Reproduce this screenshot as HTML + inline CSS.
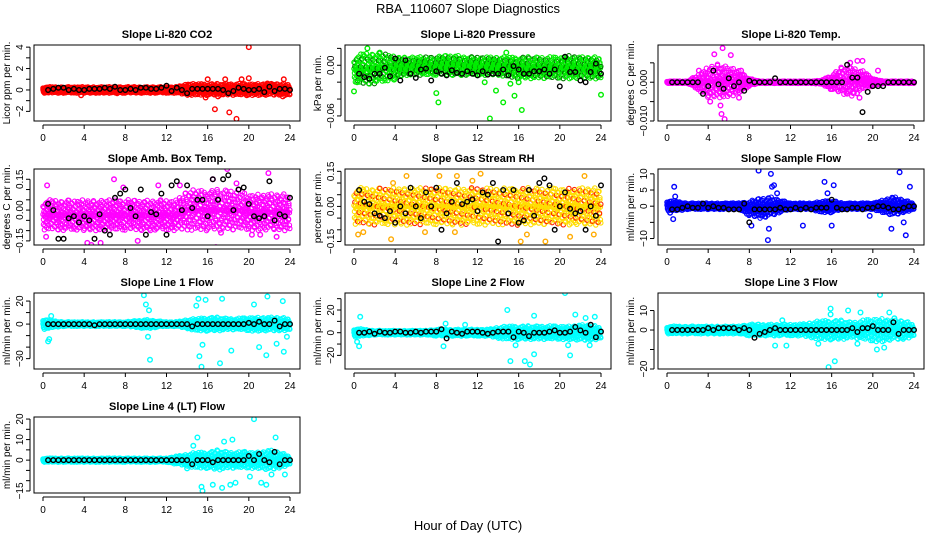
<!DOCTYPE html>
<html><head><meta charset="utf-8"><style>
html,body{margin:0;padding:0;background:#fff;}
svg{display:block;font-family:"Liberation Sans","DejaVu Sans",sans-serif;}
</style></head><body>
<svg id="chart" width="936" height="540" viewBox="0 0 936 540" xmlns="http://www.w3.org/2000/svg">
<text x="468" y="13" text-anchor="middle" font-size="13">RBA_110607  Slope Diagnostics</text>
<text x="468" y="530" text-anchor="middle" font-size="13">Hour of Day (UTC)</text>
<g id="panels"></g>
</svg>
<script>
const xTicks=[0,4,8,12,16,20,24];
const meanHours=[0.5,1,1.5,2,2.5,3,3.5,4,4.5,5,5.5,6,6.5,7,7.5,8,8.5,9,9.5,10,10.5,11,11.5,12,12.5,13,13.5,14,14.5,15,15.5,16,16.5,17,17.5,18,18.5,19,19.5,20,20.5,21,21.5,22,22.5,23,23.5,24];

// Panel 1 CO2
const co2Hi=[0.3,0.3,0.3,0.3,0.3,0.3,0.3,0.3,0.3,0.3,0.3,0.3,0.3,0.3,0.6,0.6,0.6,0.6,0.6,0.6,0.6,0.6,0.6,0.6,0.6];
const co2Lo=[-0.3,-0.3,-0.3,-0.3,-0.3,-0.3,-0.3,-0.3,-0.3,-0.3,-0.3,-0.3,-0.3,-0.3,-0.5,-0.5,-0.5,-0.5,-0.5,-0.5,-0.5,-0.5,-0.5,-0.5,-0.5];
const co2Out=[[16,1],[15.8,-0.7],[16.7,-1.8],[17.7,1],[18.1,-2.1],[18.8,-2.7],[19.3,1],[20,4],[20,1.1],[21.8,0.6],[22.3,0.5],[23.4,1],[23.3,-0.6],[14.1,0.5],[3.7,-0.5],[7.2,-0.3],[17,-0.6],[19.8,-0.5]];
const co2Mean=[0,0.1,0.2,0.2,0,0.1,0,0,0.1,0.1,0.1,0.2,0.1,0.3,0,0,0.1,0,0.2,0.2,0.1,0.1,0.2,0.4,-0.1,0.2,0,-0.3,0.1,0.1,0.1,0.1,0.1,0.1,0,-0.3,-0.1,0.2,0.1,0,0,0.1,-0.2,0.3,-0.1,0.1,0.1,0];

// Panel 2 Pressure
const presHi=[0.01,0.015,0.015,0.015,0.01,0.01,0.01,0.01,0.01,0.012,0.012,0.01,0.01,0.01,0.01,0.01,0.01,0.01,0.01,0.01,0.01,0.012,0.01,0.01,0.01];
const presLo=[-0.02,-0.024,-0.022,-0.02,-0.016,-0.012,-0.012,-0.012,-0.012,-0.012,-0.012,-0.012,-0.012,-0.012,-0.012,-0.014,-0.016,-0.016,-0.016,-0.016,-0.016,-0.016,-0.016,-0.016,-0.016];
const presOut=[[0.3,0.043],[0,-0.031],[0.3,-0.02],[1.3,0.02],[8,-0.033],[8.2,-0.044],[13.2,-0.063],[12.7,-0.02],[13.8,-0.03],[14.5,-0.044],[15.2,-0.022],[15.6,-0.036],[16.3,-0.053],[14.8,0.015],[24,-0.035],[2.5,0.015],[3.9,-0.017],[16,-0.02]];
const presMean=[-0.01,-0.014,-0.016,-0.01,-0.01,-0.003,-0.013,0.008,-0.018,0.006,-0.01,-0.015,-0.005,-0.004,-0.018,-0.007,-0.01,-0.012,-0.006,-0.009,-0.01,-0.007,-0.01,-0.012,-0.007,-0.011,-0.01,-0.01,-0.005,-0.012,-0.001,-0.005,-0.01,-0.01,-0.007,-0.007,-0.005,-0.01,-0.005,-0.025,0.01,-0.008,-0.008,-0.018,-0.02,-0.008,0.002,-0.01];

// Panel 3 Li-820 Temp
const tempHi=[0.0003,0.0003,0.0003,0.002,0.004,0.005,0.004,0.003,0.001,0.0003,0.0003,0.0003,0.0003,0.0003,0.0003,0.0005,0.002,0.004,0.004,0.003,0.001,0.0003,0.0003,0.0003,0.0003];
const tempLo=[-0.0003,-0.0003,-0.0003,-0.002,-0.004,-0.004,-0.004,-0.003,-0.001,-0.0003,-0.0003,-0.0003,-0.0003,-0.0003,-0.0003,-0.0005,-0.002,-0.003,-0.004,-0.002,-0.001,-0.0003,-0.0003,-0.0003,-0.0003];
const tempOut=[[5.4,0.0088],[4.6,0.0072],[6.2,0.007],[5.2,-0.006],[5.6,-0.0095],[5.3,-0.0082],[17.8,0.005],[18.5,0.0055],[19,0.0055],[18.7,-0.004],[7,-0.004],[4.2,-0.005],[3.1,0.003],[7.2,0.003],[20.5,0.003]];
const tempMean=[0,0,0,0,0,0,-0.003,-0.001,0.003,-0.0005,-0.0017,0.001,-0.001,0,-0.0022,0.0004,0,0,0,0,0.001,0,0,0,0,0,0,0,0,0,0,0,0,0,0.0045,0.0012,0.0012,-0.0077,-0.0025,-0.001,-0.001,-0.001,0,0,0,0,0,0];

// Panel 4 Amb box temp
const ambHi=[0.05,0.05,0.05,0.05,0.05,0.05,0.05,0.05,0.05,0.05,0.05,0.05,0.05,0.05,0.1,0.1,0.1,0.1,0.1,0.1,0.08,0.08,0.08,0.08,0.08];
const ambLo=[-0.1,-0.1,-0.1,-0.1,-0.1,-0.1,-0.1,-0.1,-0.1,-0.1,-0.1,-0.1,-0.1,-0.1,-0.1,-0.1,-0.1,-0.1,-0.1,-0.1,-0.1,-0.1,-0.1,-0.1,-0.1];
const ambOut=[[0.4,0.12],[6.9,0.15],[7.8,0.11],[4.3,-0.16],[4.7,-0.17],[5.6,-0.16],[9.2,-0.15],[11.2,0.12],[16.5,0.15],[16.8,-0.18],[17.9,0.2],[21.9,0.18],[18.8,0.13],[20.3,-0.12],[21.1,-0.12],[22.7,-0.13],[0.3,-0.13],[13.3,0.12],[17.3,-0.11]];
const ambMean=[0.03,0.0,-0.14,-0.14,-0.04,-0.03,-0.06,-0.03,-0.05,-0.14,-0.02,-0.1,-0.12,0.06,0.08,0.1,0.01,-0.03,0.1,-0.12,-0.01,-0.02,0.08,-0.12,0.12,0.14,0.0,0.12,0.01,0.05,0.05,-0.03,0.15,0.05,0.15,0.17,0.0,0.1,0.11,0.03,-0.03,-0.04,-0.03,0.14,-0.05,-0.02,-0.03,0.06];

// Panel 5 RH
const rhHi=[0.08,0.08,0.08,0.08,0.08,0.08,0.08,0.08,0.08,0.08,0.08,0.08,0.08,0.08,0.08,0.08,0.08,0.08,0.08,0.08,0.08,0.08,0.08,0.08,0.08];
const rhLo=[-0.08,-0.08,-0.08,-0.08,-0.08,-0.08,-0.08,-0.08,-0.08,-0.08,-0.08,-0.08,-0.08,-0.08,-0.08,-0.08,-0.08,-0.08,-0.08,-0.08,-0.08,-0.08,-0.08,-0.08,-0.08];
const rhOut=[[3.6,-0.14],[3.8,0.1],[5.1,0.13],[8.3,0.13],[10,0.13],[12.3,0.14],[16.2,-0.15],[18.6,-0.15],[21,-0.13],[22.4,0.13],[23.3,-0.12],[0.4,-0.12],[0.9,-0.11],[6.9,-0.11],[9.8,-0.11],[16.8,-0.12],[11.5,0.11]];
const rhMean=[0.07,0.02,0.01,-0.03,-0.04,-0.05,-0.02,-0.07,0.0,-0.03,0.08,0.0,-0.05,0.06,0.0,0.08,-0.1,-0.03,0.02,0.1,0.01,0.02,0.03,-0.02,0.06,0.05,0.1,-0.15,0.07,-0.03,0.07,-0.07,-0.06,0.07,-0.04,0.1,0.12,0.09,-0.1,0.0,0.06,-0.01,-0.03,-0.02,-0.1,0.0,-0.04,0.09];

// Panel 6 Sample Flow
const sfHi=[2,1.5,1,1,1,1,1,1,1.5,2.5,3,2,1,1,1,1.5,2,1,1,1,1,2,3,2,1];
const sfLo=[-1.5,-1.5,-1,-1,-1,-1,-1,-1,-3,-4,-3,-2,-1,-1,-1,-2,-2,-1,-1,-1,-1,-2,-3,-2,-1];
const sfOut=[[0.3,-2],[0.6,-4],[0.7,6],[0.8,3],[8.2,-6],[8.9,11],[9.8,-10.5],[9.9,-7],[10.1,10],[10.2,6],[10.4,6.5],[10.7,4],[13.2,-6],[15.3,7.5],[15.6,4],[16,-6],[16.2,6.5],[19.7,-3],[21.8,-7],[22.6,10.5],[23.2,-9],[23.6,6],[23,-5]];
const sfMean=[-1,-1,-0.5,0,-0.5,-0.5,0.8,-0.5,0,-0.5,-0.5,-1,-1,-1,0.8,-5,-1,-1,-1,-1,-1,-0.5,-1,-1,-0.5,-1,-0.5,-1,-0.5,-0.5,-0.5,2,-0.5,-1,-1,-0.5,-0.5,-1,-0.5,-0.5,0,0,-0.5,-1,-1,-0.5,0,0];

// Panel 7 Line 1 Flow
const l1Hi=[5,3,2,2,2,2,2,2,2,3,4,3,2,2,4,5,6,6,5,5,6,6,6,6,5];
const l1Lo=[-5,-3,-2,-2,-2,-2,-2,-2,-2,-3,-4,-3,-2,-2,-4,-6,-6,-6,-5,-5,-6,-6,-6,-6,-5];
const l1Out=[[0.5,-15],[0.6,-13],[0.8,7],[9.8,25],[10,17],[10.3,12],[10.4,-31],[10.2,-11],[15.1,22],[15.2,-28],[15.4,-37],[15.5,-18],[15.8,21],[14.9,16],[17.2,-34],[17.4,22],[18.3,-23],[20.5,17],[21,-20],[21.7,-27],[21.8,24],[23.3,20],[23.4,-24],[22.7,-17],[23.7,-11]];
const l1Mean=[0,0,0,0,0,0,0,0,0,-1,0,0,0,0,0,0,0,0,0,0,0,0,0,0,0,0,0,0,-2,0,0,0,0,0,0,0,0,0,0,1,0,2,0,0,3,-2,0,0];

// Panel 8 Line 2 Flow
const l2Hi=[4,3,2,2,2,2,2,2,3,3,3,3,3,3,5,6,6,6,6,6,6,6,7,7,5];
const l2Lo=[-4,-3,-2,-2,-2,-2,-2,-2,-3,-3,-3,-3,-3,-3,-5,-6,-6,-6,-6,-6,-6,-6,-7,-7,-5];
const l2Out=[[0.3,-8],[0.5,-12],[0.6,14],[8.7,-12],[14.9,20],[15.2,-25],[15.7,-11],[16.6,-25],[17.1,-28],[17.5,15],[17.5,-19],[20.5,35],[20.8,-11],[21,-20],[21.5,16],[22.5,13],[23.4,14],[22.9,-11],[10.8,7],[8.9,8]];
const l2Mean=[0,0,1,-1,1,0,0,1,1,0,0,1,0,1,1,1,3,-5,1,0,-1,1,1,1,0,-1,0,1,1,1,-4,1,0,-3,0,0,0,1,2,0,0,1,5,2,0,7,-4,1];

// Panel 9 Line 3 Flow
const l3Hi=[2,2,2,2,2,2,2,2,3,3,3,3,3,3,4,5,5,5,4,5,6,6,5,5,3];
const l3Lo=[-2,-2,-2,-2,-2,-2,-2,-2,-3,-3,-3,-3,-3,-3,-4,-5,-5,-5,-4,-5,-6,-6,-5,-5,-3];
const l3Out=[[10.5,-8],[11.2,5],[11.6,-8],[15.7,-19],[15.9,11],[16.3,-16],[15.9,8],[17.2,-3],[17.6,10],[18.5,-7],[18.8,9],[20.7,18],[20.4,-10],[21.1,-9],[21.6,9],[22.1,6],[21.7,4],[22.8,-4],[14.7,-7]];
const l3Mean=[0,0,0,0,0,0,0,1,0,1,1,1,1,0,1,0,-4,-2,-1,0,1,0,0,0,0,0,0,0,0,0,0,0,0,0,0,1,-1,1,1,2,0,0,0,4,-2,0,0,0];

// Panel 10 Line 4 (LT) Flow
const l4Hi=[1,1,1,1,1,1,1,1,1,1,1,1,1,2,3,4,4,5,4,4,4,4,5,4,2];
const l4Lo=[-1,-1,-1,-1,-1,-1,-1,-1,-1,-1,-1,-1,-1,-2,-3,-4,-4,-5,-4,-4,-4,-4,-5,-4,-2];
const l4Out=[[15,11],[14.6,7],[15.4,-13],[15.5,-15],[16.5,-12],[17.4,-13.5],[17.6,9],[18.4,10],[18.2,-12],[18.7,-11],[20.1,-8],[20.5,20],[21.2,-11],[21.7,-12],[22.6,11],[22.2,-7],[23.5,-7],[14,-4],[19.6,4]];
const l4Mean=[0,0,0,0,0,0,0,0,0,0,0,0,0,0,0,0,0,0,0,0,0,0,0,0,0,0,0,0,-2,0,0,0,-1,0,0,0,0,0,0,2,0,3,0,-1,4,-2,0,0];

const panels=[
 {id:'co2',title:'Slope Li-820 CO2',ylab:'Licor ppm per min.',col:0,row:0,ymin:-2.9,ymax:4.2,ticks:[-2,-1,0,1,2,3,4],labels:[-2,0,2,4],fmt:v=>v<0?'\u2212'+(-v):''+v,color:'#ff0000',hi:co2Hi,lo:co2Lo,out:co2Out,mean:co2Mean},
 {id:'pressure',title:'Slope Li-820 Pressure',ylab:'kPa per min.',col:1,row:0,ymin:-0.066,ymax:0.024,ticks:[-0.06,-0.04,-0.02,0,0.02],labels:[-0.06,0],fmt:v=>v<0?'\u2212'+(-v).toFixed(2):v.toFixed(2),color:'#00ee00',color2:'#007700',hi:presHi,lo:presLo,out:presOut,mean:presMean},
 {id:'temp',title:'Slope Li-820 Temp.',ylab:'degrees C per min.',col:2,row:0,ymin:-0.010,ymax:0.0096,ticks:[-0.01,-0.005,0,0.005],labels:[-0.01,0],fmt:v=>v<0?'\u2212'+(-v).toFixed(3):v.toFixed(3),color:'#ff00ff',hi:tempHi,lo:tempLo,out:tempOut,mean:tempMean},
 {id:'ambbox',title:'Slope Amb. Box Temp.',ylab:'degrees C per min.',col:0,row:1,ymin:-0.17,ymax:0.2,ticks:[-0.15,-0.1,-0.05,0,0.05,0.1,0.15],labels:[-0.15,0,0.15],fmt:v=>v<0?'\u2212'+(-v).toFixed(2):v.toFixed(2),color:'#ff00ff',hi:ambHi,lo:ambLo,out:ambOut,mean:ambMean},
 {id:'rh',title:'Slope Gas Stream RH',ylab:'percent per min.',col:1,row:1,ymin:-0.165,ymax:0.16,ticks:[-0.15,-0.1,-0.05,0,0.05,0.1,0.15],labels:[-0.15,0,0.15],fmt:v=>v<0?'\u2212'+(-v).toFixed(2):v.toFixed(2),color:'#ffdd00',color2:'#ff2200',hi:rhHi,lo:rhLo,out:rhOut,mean:rhMean},
 {id:'sampleflow',title:'Slope Sample Flow',ylab:'ml/min per min.',col:2,row:1,ymin:-12,ymax:11.5,ticks:[-10,-5,0,5,10],labels:[-10,0,5,10],fmt:v=>v<0?'\u2212'+(-v):''+v,color:'#0000ff',hi:sfHi,lo:sfLo,out:sfOut,mean:sfMean},
 {id:'line1',title:'Slope Line 1 Flow',ylab:'ml/min per min.',col:0,row:2,ymin:-39,ymax:27,ticks:[-30,-20,-10,0,10,20],labels:[-30,0,20],fmt:v=>v<0?'\u2212'+(-v):''+v,color:'#00ffff',hi:l1Hi,lo:l1Lo,out:l1Out,mean:l1Mean},
 {id:'line2',title:'Slope Line 2 Flow',ylab:'ml/min per min.',col:1,row:2,ymin:-32,ymax:35,ticks:[-20,-10,0,10,20,30],labels:[-20,0,20],fmt:v=>v<0?'\u2212'+(-v):''+v,color:'#00ffff',hi:l2Hi,lo:l2Lo,out:l2Out,mean:l2Mean},
 {id:'line3',title:'Slope Line 3 Flow',ylab:'ml/min per min.',col:2,row:2,ymin:-20,ymax:19,ticks:[-20,-10,0,10],labels:[-20,0,10],fmt:v=>v<0?'\u2212'+(-v):''+v,color:'#00ffff',hi:l3Hi,lo:l3Lo,out:l3Out,mean:l3Mean},
 {id:'line4',title:'Slope Line 4 (LT) Flow',ylab:'ml/min per min.',col:0,row:3,ymin:-16,ymax:21,ticks:[-15,-10,-5,0,5,10,15,20],labels:[-15,0,10,20],fmt:v=>v<0?'\u2212'+(-v):''+v,color:'#00ffff',hi:l4Hi,lo:l4Lo,out:l4Out,mean:l4Mean}
];
const NS='http://www.w3.org/2000/svg';
const root=document.getElementById('panels');
const colLeft=[34,345,658], rowTop=[45,169,293,417], W=266, H=76;
function mk(tag,attrs,parent){const e=document.createElementNS(NS,tag);for(const k in attrs)e.setAttribute(k,attrs[k]);parent.appendChild(e);return e;}
function interp(arr,h){const i=Math.min(23,Math.floor(h));const f=h-i;return arr[i]+(arr[i+1]-arr[i])*f;}
panels.forEach(p=>{
  const L=colLeft[p.col], T=rowTop[p.row], B=T+H;
  const g=mk('g',{},root);
  
  
  const xs=h=>L+9+h*(247/24);
  const ys=v=>T+(p.ymax-v)/(p.ymax-p.ymin)*H;
  const clip=mk('clipPath',{id:'c-'+p.id},g);
  mk('rect',{x:L,y:T,width:W,height:H},clip);
  const pts=mk('g',{'clip-path':'url(#c-'+p.id+')',fill:'none'},g);
  
  
  // dense band texture (quasi-random spread within hi/lo envelope)
  let k=0;
  for(let h=0;h<=24.001;h+=0.045){
    k++;
    const hi=interp(p.hi,h), lo=interp(p.lo,h);
    const f1=(k*0.6180339)%1, f2=(k*0.4142136+0.37)%1;
    const fs=[0.5+(f1-0.5)*Math.abs(f1-0.5)*2*1.0, f2];
    fs.forEach((f,j)=>{
      const v=lo+(hi-lo)*f;
      const c=mk('circle',{cx:xs(h).toFixed(1),cy:ys(v).toFixed(1),r:2.2,stroke:(p.color2&&j===1&&k%3===0)?p.color2:p.color,'stroke-width':1.1},pts);
      
      
    });
  }
  p.out.forEach(d=>{
    const c=mk('circle',{cx:xs(d[0]).toFixed(1),cy:ys(d[1]).toFixed(1),r:2.3,stroke:p.color2&&p.id==='rh'?'#ffaa00':p.color,'stroke-width':1.4},pts);
    
    
  });
  p.mean.forEach((v,i)=>{
    const c=mk('circle',{cx:xs(meanHours[i]).toFixed(1),cy:ys(v).toFixed(1),r:2.3,stroke:'#000','stroke-width':1.4},pts);
    
    
  });
  const box=mk('rect',{x:L,y:T,width:W,height:H,fill:'none',stroke:'#000','stroke-width':1},g);
  
  
  const t=mk('text',{x:L+W/2,y:T-7,'text-anchor':'middle','font-size':11,'font-weight':'bold'},g);
  t.textContent=p.title;
  
  
  // x axis
  mk('line',{x1:xs(0),x2:xs(24),y1:B+4,y2:B+4,stroke:'#000'},g);
  xTicks.forEach(h=>{
    mk('line',{x1:xs(h),x2:xs(h),y1:B+4,y2:B+8,stroke:'#000'},g);
    const tx=mk('text',{x:xs(h),y:B+20,'text-anchor':'middle','font-size':10},g);tx.textContent=h;
    
    
  });
  // y axis
  const yt=p.ticks.filter(v=>v>=p.ymin-1e-9&&v<=p.ymax+1e-9);
  mk('line',{x1:L-4,x2:L-4,y1:ys(Math.min(...yt)),y2:ys(Math.max(...yt)),stroke:'#000'},g);
  yt.forEach(v=>{
    mk('line',{x1:L-8,x2:L-4,y1:ys(v),y2:ys(v),stroke:'#000'},g);
  });
  p.labels.forEach(v=>{
    const y=ys(v);
    const tx=mk('text',{x:L-11,y:y,'text-anchor':'middle','font-size':10,transform:`rotate(-90 ${L-11} ${y})`},g);
    tx.textContent=p.fmt(v);
    
    
  });
  const yl=mk('text',{x:L-24,y:T+H/2,'text-anchor':'middle','font-size':10,transform:`rotate(-90 ${L-24} ${T+H/2})`},g);
  yl.textContent=p.ylab;
  
  
});
</script>
</body></html>
